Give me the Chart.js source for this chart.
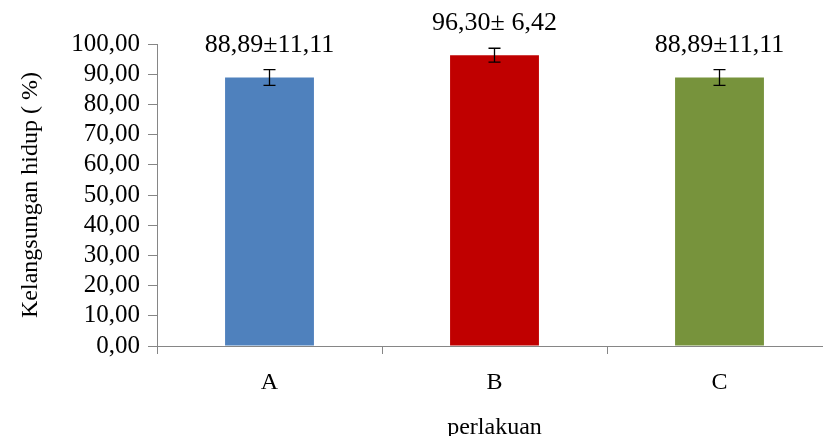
<!DOCTYPE html>
<html>
<head>
<meta charset="utf-8">
<script src="https://cdn.jsdelivr.net/npm/chart.js@4.4.1/dist/chart.umd.min.js"></script>
<style>
  html, body { margin: 0; padding: 0; background: #fff; overflow: hidden; }
  #wrap { width: 832px; height: 436px; }
</style>
</head>
<body>
<div id="wrap"><canvas id="grafico"></canvas></div>
<script>
// DATA
const kategori = ['A', 'B', 'C'];
const nilai = [88.89, 96.30, 88.89];
const galat = [2.6, 2.3, 2.6];
const labelNilai = ['88,89\u00b111,11', '96,30\u00b1 6,42', '88,89\u00b111,11'];
const warna = ['#4f81bd', '#c00000', '#77933c'];

const serif = '"Liberation Serif", "Times New Roman", serif';
const abu = '#868686';

// error bar + label di atas batang
const errorBarPlugin = {
  id: 'errorBar',
  afterDatasetsDraw(chart) {
    const ctx = chart.ctx;
    const y = chart.scales.y;
    const meta = chart.getDatasetMeta(0);
    ctx.save();
    meta.data.forEach((bar, i) => {
      const x = bar.x;
      const atas = y.getPixelForValue(nilai[i] + galat[i]);
      const bawah = y.getPixelForValue(nilai[i] - galat[i]);
      ctx.strokeStyle = '#000';
      ctx.lineWidth = 1.3;
      ctx.beginPath();
      ctx.moveTo(x, atas); ctx.lineTo(x, bawah);
      ctx.moveTo(x - 6, atas); ctx.lineTo(x + 6, atas);
      ctx.moveTo(x - 6, bawah); ctx.lineTo(x + 6, bawah);
      ctx.stroke();
      ctx.fillStyle = '#000';
      ctx.font = '26px ' + serif;
      ctx.textAlign = 'center';
      ctx.textBaseline = 'bottom';
      ctx.fillText(labelNilai[i], x, bar.y - 19);
    });
    ctx.restore();
  }
};

const ctx = document.getElementById('grafico');

new Chart(ctx, {
  type: 'bar',
  data: {
    labels: kategori,
    datasets: [{
      data: nilai,
      backgroundColor: warna,
      borderWidth: 0,
      barPercentage: 0.395,
      categoryPercentage: 1
    }]
  },
  options: {
    responsive: true,
    maintainAspectRatio: false,
    animation: false,
    layout: { padding: { top: 44, right: 0, left: 0, bottom: 0 } },
    plugins: {
      legend: { display: false },
      tooltip: { enabled: false }
    },
    scales: {
      x: {
        grid: { drawOnChartArea: false, drawTicks: true, tickLength: 8, color: abu, offset: true },
        border: { color: abu },
        ticks: { color: '#000', font: { family: serif, size: 24 }, padding: 14 },
        title: { display: true, text: 'perlakuan', color: '#000', font: { family: serif, size: 24 }, padding: { top: 0, bottom: -6 } },
        afterFit(scale) { scale.height = 90; }
      },
      y: {
        min: 0,
        max: 100,
        grid: { drawOnChartArea: false, drawTicks: true, tickLength: 9, color: abu },
        border: { color: abu },
        ticks: {
          stepSize: 10,
          autoSkip: false,
          color: '#000',
          font: { family: serif, size: 25 },
          padding: 8,
          callback: (v) => v.toFixed(2).replace('.', ',')
        },
        title: { display: true, text: 'Kelangsungan hidup ( %)', color: '#000', font: { family: serif, size: 24 }, padding: { top: 16, bottom: 0 } },
        afterFit(scale) { scale.width = 157; }
      }
    }
  },
  plugins: [errorBarPlugin]
});
</script>
</body>
</html>
